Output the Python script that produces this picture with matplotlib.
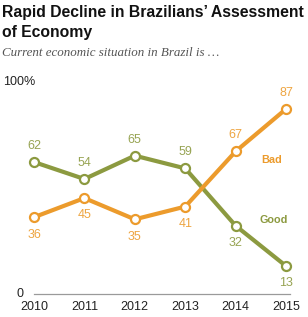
import matplotlib
matplotlib.use("Agg")
import matplotlib.pyplot as plt

years = [2010, 2011, 2012, 2013, 2014, 2015]
good = [62, 54, 65, 59, 32, 13]
bad = [36, 45, 35, 41, 67, 87]
good_pos = ["above", "above", "above", "above", "below", "below"]
bad_pos = ["below", "below", "below", "below", "above", "above"]

GOOD_C = "#8C9A40"
BAD_C = "#EC9B2C"

W, H = 308, 317
fig = plt.figure(figsize=(W / 100, H / 100), dpi=100)
fig.patch.set_facecolor("white")

def fx(px):
    return px / W

def fy(py):
    return 1 - py / H

x0, x1 = 34, 286
y0, y100 = 293.6, 81.4
ax = fig.add_axes([fx(x0), fy(y0), fx(x1) - fx(x0), fy(y100) - fy(y0)])
ax.set_xlim(2010, 2015)
ax.set_ylim(0, 100)
ax.axis("off")

# baseline
ax.plot([2010, 2015.08], [0, 0], color="#9a9a9a", lw=0.9, clip_on=False)

for vals, col, pos in [(good, GOOD_C, good_pos), (bad, BAD_C, bad_pos)]:
    ax.plot(years, vals, color=col, lw=3.0, solid_capstyle="round",
            marker="o", ms=6.5, mfc="white", mec=col, mew=1.6, clip_on=False, zorder=3)
    for x, v, p in zip(years, vals, pos):
        off = 11.5 if p == "above" else -12.5
        ax.annotate(str(v), (x, v), xytext=(0, off), textcoords="offset points",
                    ha="center", va="center", color=col, fontsize=9,
                    family="Liberation Sans", alpha=0.9)

ax.text(2014.72, 63, "Bad", color=BAD_C, fontsize=7.8, fontweight="bold",
        ha="center", va="center", family="Liberation Sans")
ax.text(2014.75, 34.7, "Good", color=GOOD_C, fontsize=7.8, fontweight="bold",
        ha="center", va="center", family="Liberation Sans")

for y in years:
    ax.text(y, -6.5, str(y), ha="center", va="center", fontsize=9,
            family="Liberation Sans", color="#222222")

fig.text(fx(20), fy(294), "0", ha="center", va="center", fontsize=9,
         family="Liberation Sans", color="#222222")
fig.text(fx(3), fy(82), "100%", ha="left", va="center", fontsize=9,
         family="Liberation Sans", color="#222222")

fig.text(fx(2), fy(17), "Rapid Decline in Brazilians\u2019 Assessment",
         ha="left", va="baseline", fontsize=11.3, fontweight="bold",
         family="Liberation Sans", color="#111111")
fig.text(fx(2), fy(37), "of Economy",
         ha="left", va="baseline", fontsize=11.3, fontweight="bold",
         family="Liberation Sans", color="#111111")
fig.text(fx(2), fy(53.5), "Current economic situation in Brazil is \u2026",
         ha="left", va="center", fontsize=9.4, style="italic",
         family="Liberation Serif", color="#555555")

fig.savefig("out.png", dpi=100)
